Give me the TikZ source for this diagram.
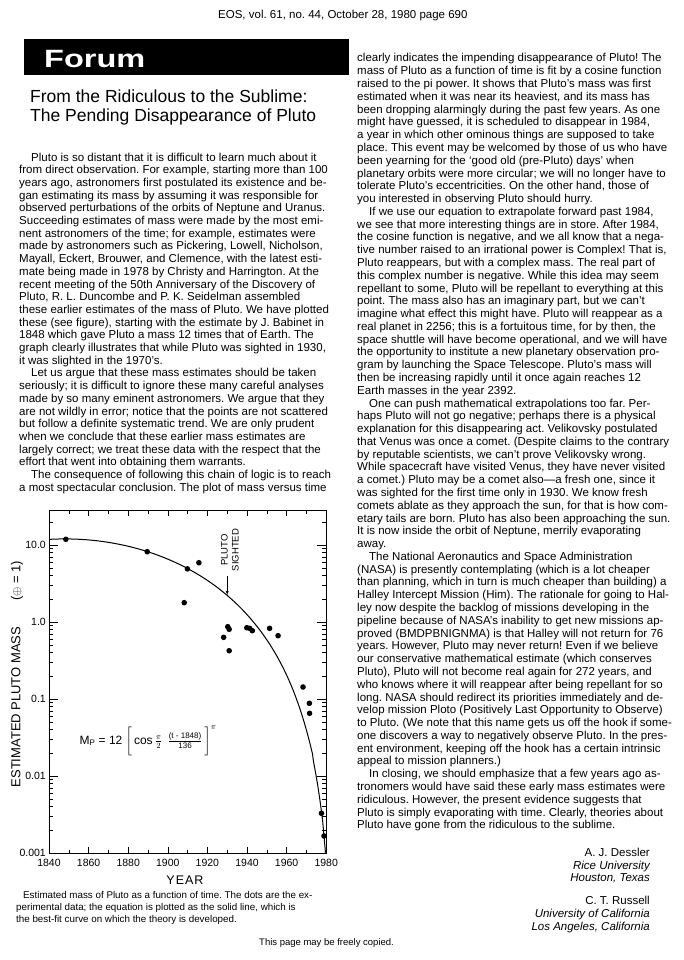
\documentclass[tikz,border=0pt]{standalone}
\usepackage{fontspec}
\setmainfont{Liberation Sans}
\usepackage{amsmath}
\usepackage{graphicx}
\newcommand{\paraind}{\hspace*{12pt}}

\begin{document}
\frenchspacing
\begin{tikzpicture}[x=1pt,y=-1pt,
    bodytext/.style={anchor=base west,inner sep=0pt,font=\fontsize{11.5}{13}\selectfont},
    signame/.style={anchor=base east,inner sep=0pt,font=\fontsize{11.5}{13}\selectfont},
    sigplace/.style={signame,font=\fontsize{11.5}{13}\selectfont\itshape},
    captext/.style={anchor=base west,inner sep=0pt,font=\fontsize{9.8}{12}\selectfont},
    ticklabel/.style={inner sep=0pt,font=\fontsize{10.5}{12}\selectfont}]
\useasboundingbox[fill=white] (0,0) rectangle (683,960);

% header
\node[bodytext] (header) at (218,19) {EOS, vol. 61, no. 44, October 28, 1980 page 690};
\fill[black] (24,39) rectangle (349,75);
\node[anchor=base west,inner sep=0pt,text=white,font=\fontsize{25}{30}\selectfont\bfseries] (forum) at (44,68) {\scalebox{1.3}[1]{Forum}};

% title
\node[anchor=base west,inner sep=0pt,font=\fontsize{17.5}{20}\selectfont] (title1) at (30,103) {From the Ridiculous to the Sublime:};
\node[anchor=base west,inner sep=0pt,font=\fontsize{17.5}{20}\selectfont] (title2) at (30,122) {The Pending Disappearance of Pluto};

% left column
\foreach \rowtext [count=\i] in {
  {\paraind Pluto is so distant that it is difficult to learn much about it},
  {from direct observation. For example, starting more than 100},
  {years ago, astronomers first postulated its existence and be-},
  {gan estimating its mass by assuming it was responsible for},
  {observed perturbations of the orbits of Neptune and Uranus.},
  {Succeeding estimates of mass were made by the most emi-},
  {nent astronomers of the time; for example, estimates were},
  {made by astronomers such as Pickering, Lowell, Nicholson,},
  {Mayall, Eckert, Brouwer, and Clemence, with the latest esti-},
  {mate being made in 1978 by Christy and Harrington. At the},
  {recent meeting of the 50th Anniversary of the Discovery of},
  {Pluto, R. L. Duncombe and P. K. Seidelman assembled},
  {these earlier estimates of the mass of Pluto. We have plotted},
  {these (see figure), starting with the estimate by J. Babinet in},
  {1848 which gave Pluto a mass 12 times that of Earth. The},
  {graph clearly illustrates that while Pluto was sighted in 1930,},
  {it was slighted in the 1970's.},
  {\paraind Let us argue that these mass estimates should be taken},
  {seriously; it is difficult to ignore these many careful analyses},
  {made by so many eminent astronomers. We argue that they},
  {are not wildly in error; notice that the points are not scattered},
  {but follow a definite systematic trend. We are only prudent},
  {when we conclude that these earlier mass estimates are},
  {largely correct; we treat these data with the respect that the},
  {effort that went into obtaining them warrants.},
  {\paraind The consequence of following this chain of logic is to reach},
  {a most spectacular conclusion. The plot of mass versus time}}
  \node[bodytext] (left\i) at (19,{161+12.7*(\i-1)}) {\rowtext};

% right column
\foreach \rowtext [count=\i] in {
  {clearly indicates the impending disappearance of Pluto! The},
  {mass of Pluto as a function of time is fit by a cosine function},
  {raised to the pi power. It shows that Pluto's mass was first},
  {estimated when it was near its heaviest, and its mass has},
  {been dropping alarmingly during the past few years. As one},
  {might have guessed, it is scheduled to disappear in 1984,},
  {a year in which other ominous things are supposed to take},
  {place. This event may be welcomed by those of us who have},
  {been yearning for the `good old (pre-Pluto) days' when},
  {planetary orbits were more circular; we will no longer have to},
  {tolerate Pluto's eccentricities. On the other hand, those of},
  {you interested in observing Pluto should hurry.},
  {\paraind If we use our equation to extrapolate forward past 1984,},
  {we see that more interesting things are in store. After 1984,},
  {the cosine function is negative, and we all know that a nega-},
  {tive number raised to an irrational power is Complex! That is,},
  {Pluto reappears, but with a complex mass. The real part of},
  {this complex number is negative. While this idea may seem},
  {repellant to some, Pluto will be repellant to everything at this},
  {point. The mass also has an imaginary part, but we can't},
  {imagine what effect this might have. Pluto will reappear as a},
  {real planet in 2256; this is a fortuitous time, for by then, the},
  {space shuttle will have become operational, and we will have},
  {the opportunity to institute a new planetary observation pro-},
  {gram by launching the Space Telescope. Pluto's mass will},
  {then be increasing rapidly until it once again reaches 12},
  {Earth masses in the year 2392.},
  {\paraind One can push mathematical extrapolations too far. Per-},
  {haps Pluto will not go negative; perhaps there is a physical},
  {explanation for this disappearing act. Velikovsky postulated},
  {that Venus was once a comet. (Despite claims to the contrary},
  {by reputable scientists, we can't prove Velikovsky wrong.},
  {While spacecraft have visited Venus, they have never visited},
  {a comet.) Pluto may be a comet also---a fresh one, since it},
  {was sighted for the first time only in 1930. We know fresh},
  {comets ablate as they approach the sun, for that is how com-},
  {etary tails are born. Pluto has also been approaching the sun.},
  {It is now inside the orbit of Neptune, merrily evaporating},
  {away.},
  {\paraind The National Aeronautics and Space Administration},
  {(NASA) is presently contemplating (which is a lot cheaper},
  {than planning, which in turn is much cheaper than building) a},
  {Halley Intercept Mission (Him). The rationale for going to Hal-},
  {ley now despite the backlog of missions developing in the},
  {pipeline because of NASA's inability to get new missions ap-},
  {proved (BMDPBNIGNMA) is that Halley will not return for 76},
  {years. However, Pluto may never return! Even if we believe},
  {our conservative mathematical estimate (which conserves},
  {Pluto), Pluto will not become real again for 272 years, and},
  {who knows where it will reappear after being repellant for so},
  {long. NASA should redirect its priorities immediately and de-},
  {velop mission Ploto (Positively Last Opportunity to Observe)},
  {to Pluto. (We note that this name gets us off the hook if some-},
  {one discovers a way to negatively observe Pluto. In the pres-},
  {ent environment, keeping off the hook has a certain intrinsic},
  {appeal to mission planners.)},
  {\paraind In closing, we should emphasize that a few years ago as-},
  {tronomers would have said these early mass estimates were},
  {ridiculous. However, the present evidence suggests that},
  {Pluto is simply evaporating with time. Clearly, theories about},
  {Pluto have gone from the ridiculous to the sublime.}}
  \node[bodytext] (right\i) at (357,{62+12.78*(\i-1)}) {\rowtext};

% graph
\begin{scope}[shift={(49,622)},x=1.98pt,y=77pt]
  \draw[line width=0.8pt] (0,-3) rectangle (140,1.4545);
  % year ticks
  \foreach \t in {10,30,...,130} {
    \draw[thin] (\t,-3) -- ++(0,3.5pt);
    \draw[thin] (\t,1.4545) -- ++(0,-3.5pt);
  }
  \foreach \t in {20,40,...,120} {
    \draw[thin] (\t,-3) -- ++(0,6pt);
    \draw[thin] (\t,1.4545) -- ++(0,-6pt);
  }
  % decade ticks
  \foreach \d in {-2,...,1} {
    \draw[thin] (0,\d) -- ++(9pt,0);
    \draw[thin] (140,\d) -- ++(-9pt,0);
  }
  \foreach \d in {-3,...,0}
    \foreach \k in {2,...,9} {
      \draw[thin] (0,{\d+0.434294*ln(\k)}) -- ++(4pt,0);
      \draw[thin] (140,{\d+0.434294*ln(\k)}) -- ++(-4pt,0);
    }
  \draw[thin] (0,1.30103) -- ++(4pt,0);
  \draw[thin] (140,1.30103) -- ++(-4pt,0);
  % labels
  \foreach \d/\lab [count=\n] in {1/10.0,0/1.0,-1/0.1,-2/0.01,-3/0.001}
    \node[ticklabel,anchor=east] (ylab\n) at (0,\d) [xshift=-3pt] {\lab};
  \foreach \yr [count=\n] in {1840,1860,...,1980}
    \node[ticklabel,anchor=north] (xlab\n) at ({\yr-1840},-3) [yshift=-6pt] {\yr};
  % fit
  \draw[line width=1pt] plot[domain=0:139.64,samples=300]
    (\x,{1.07918+1.364376*ln(cos(90*(\x-8)/136))});
  % data
  \foreach \t/\m in {8.5/1.074,49.6/0.913,69.9/0.69,75.7/0.770,68.3/0.251,
      90.3/-0.061,91.0/-0.095,88.2/-0.199,91.0/-0.373,99.9/-0.074,
      101.3/-0.082,102.7/-0.113,111.4/-0.082,115.7/-0.178,128.3/-0.844,
      131.5/-1.056,131.6/-1.186,137.6/-2.484,138.9/-2.779}
    \fill (\t,\m) circle [radius=2.8pt];
  % pluto sighted
  \node[rotate=90,align=center,inner sep=0pt,font=\fontsize{9.5}{11}\selectfont] (plutolabel) at (91.4,0.935) {PLUTO\\SIGHTED};
  \coordinate (arrowtop) at (90,0.597);
  \coordinate (sighted) at (90,0.35);
  \draw[thin,-latex] (arrowtop) -- (sighted);
  % equation
  \node[inner sep=0pt,font=\fontsize{12}{14}\selectfont] (formula) at (50,-1.545)
    {M\textsubscript{P} = 12 $\biggl[\,\text{cos}\,\frac{\pi}{2}\;\,\frac{\text{(t - 1848)}}{\text{136}}\,\biggr]^{\pi}$};
\end{scope}
\node[rotate=90,inner sep=0pt,font=\fontsize{13}{15}\selectfont] (masslabel) at (17,674) {ESTIMATED PLUTO MASS\hspace{2em}($\oplus$ = 1)};
\node[inner sep=0pt,font=\fontsize{12.5}{14}\selectfont] (yearlabel) at (185,880) {Y\kern1pt E\kern1pt A\kern1pt R};

% caption
\node[captext] (cap1) at (23,898) {Estimated mass of Pluto as a function of time. The dots are the ex-};
\node[captext] (cap2) at (16,910) {perimental data; the equation is plotted as the solid line, which is};
\node[captext] (cap3) at (16,922) {the best-fit curve on which the theory is developed.};
\node[anchor=base west,inner sep=0pt,font=\fontsize{9.5}{11}\selectfont] (copied) at (259,945) {This page may be freely copied.};

% authors
\node[signame] (dessler) at (650,856) {A. J. Dessler};
\node[sigplace] (rice) at (650,869) {Rice University};
\node[sigplace] (houston) at (650,881) {Houston, Texas};
\node[signame] (russell) at (650,904) {C. T. Russell};
\node[sigplace] (ucla) at (650,917) {University of California};
\node[sigplace] (la) at (650,930) {Los Angeles, California};
\end{tikzpicture}
\end{document}
